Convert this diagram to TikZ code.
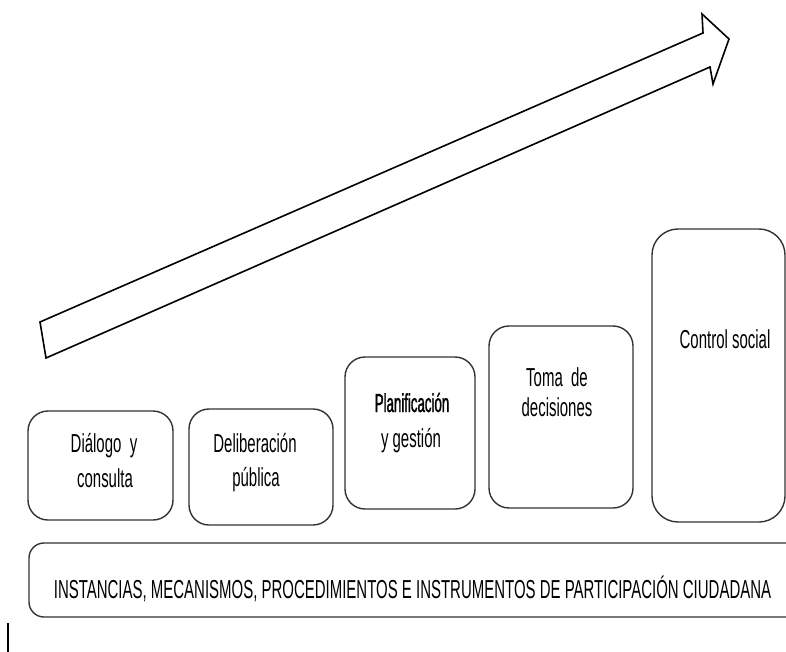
\documentclass[tikz,border=0pt]{standalone}
\usepackage{fontspec}
\setmainfont[FakeStretch=0.576]{Liberation Sans}
\newfontfamily\planfont[FakeStretch=0.51,FakeBold=1.2]{Liberation Sans}
\begin{document}
\begin{tikzpicture}[x=1pt,y=-1pt,
  stepbox/.style={draw=black!80,line width=1.4pt,rounded corners=20pt,inner sep=0pt,outer sep=0pt},
  txt/.style={anchor=base,inner sep=0pt,font=\fontsize{26}{30}\selectfont},
  arrowshape/.style={draw=black,line width=1.6pt,line join=miter,fill=white}]
\useasboundingbox (0,0) rectangle (786,652);
% big arrow
\draw[arrowshape] (40,322) -- (703,33) -- (702,14) -- (729,39) -- (713,84) -- (710,67) -- (46,358) -- cycle;
% boxes
\node[stepbox,minimum width=145pt,minimum height=109pt] (b1) at (100.5,465.5) {};
\node[stepbox,minimum width=144pt,minimum height=116pt] (b2) at (261,467) {};
\node[stepbox,minimum width=130pt,minimum height=152pt] (b3) at (410,433) {};
\node[stepbox,minimum width=144pt,minimum height=182pt] (b4) at (561,417) {};
\node[stepbox,minimum width=133pt,minimum height=293pt,rounded corners=26pt] (b5) at (718.5,375.5) {};
% base bar (open on the right)
\draw[draw=black!80,line width=1.4pt,rounded corners=15pt] (790,543) -- (29,543) -- (29,617) -- (790,617);
% texts
\node[txt] (t1a) at (104,452) {Diálogo\ \ y};
\node[txt] (t1b) at (105,487) {consulta};
\node[txt] (t2a) at (255,452) {Deliberación};
\node[txt] (t2b) at (256,486) {pública};
\node[txt,font=\fontsize{26}{30}\selectfont\planfont] (t3a) at (412,412) {Planificación};
\node[txt] (t3b) at (411,447) {y gestión};
\node[txt] (t4a) at (557,386) {Toma\ \ de};
\node[txt] (t4b) at (557,416) {decisiones};
\node[txt] (t5) at (725,348) {Control social};
\node[txt] (t6) at (412.5,598) {INSTANCIAS, MECANISMOS, PROCEDIMIENTOS E INSTRUMENTOS DE PARTICIPACIÓN CIUDADANA};
% cursor mark
\draw[line width=2pt] (8,623) -- (8,652);
\end{tikzpicture}
\end{document}
